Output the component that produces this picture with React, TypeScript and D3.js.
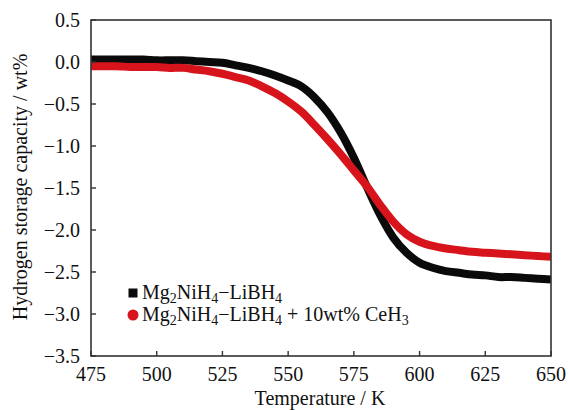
import React from "react";
import * as d3 from "d3";

const temperatures = [475,480,485,490,495,500,505,510,515,520,525,530,535,540,545,550,555,560,565,570,575,580,585,590,595,600,605,610,615,620,625,630,635,640,645,650];
const baseSeries = [0.03,0.03,0.03,0.03,0.03,0.02,0.02,0.02,0.01,0.00,-0.01,-0.04,-0.07,-0.11,-0.16,-0.22,-0.29,-0.42,-0.60,-0.84,-1.14,-1.49,-1.82,-2.09,-2.27,-2.39,-2.45,-2.49,-2.51,-2.53,-2.54,-2.56,-2.56,-2.57,-2.58,-2.59];
const ceSeries = [-0.05,-0.05,-0.05,-0.06,-0.06,-0.06,-0.07,-0.07,-0.09,-0.11,-0.14,-0.18,-0.22,-0.29,-0.37,-0.47,-0.59,-0.75,-0.92,-1.10,-1.29,-1.48,-1.70,-1.90,-2.05,-2.14,-2.19,-2.22,-2.24,-2.26,-2.27,-2.28,-2.29,-2.30,-2.31,-2.32];
const xTicks = [475,500,525,550,575,600,625,650];
const yTicks = [0.5,0.0,-0.5,-1.0,-1.5,-2.0,-2.5,-3.0,-3.5];

const W = 568, H = 410;
const L = 91, R = 551, T = 20, B = 356;
const FONT = "Liberation Serif, Times New Roman, serif";
const FS = 20;

export default function App() {
  const x = d3.scaleLinear().domain([475, 650]).range([L, R]);
  const y = d3.scaleLinear().domain([-3.5, 0.5]).range([B, T]);
  const line = d3.line<number>()
    .x((_, i) => x(temperatures[i]))
    .y((v) => y(v))
    .curve(d3.curveCatmullRom);
  const fmt = (v: number) => (v < 0 ? "\u2212" : "") + Math.abs(v).toFixed(1);
  const sub = (s: string) => (
    <tspan baselineShift="-4" fontSize={14}>{s}</tspan>
  );
  const ts = { fontFamily: FONT };
  return (
    <svg width={W} height={H} style={{ position: "absolute", left: 0, top: 0, fontFamily: FONT }}>
      <rect width={W} height={H} fill="#fff" />
      <defs>
        <clipPath id="plot">
          <rect x={L} y={T} width={R - L} height={B - T} />
        </clipPath>
      </defs>
      <g clipPath="url(#plot)">
        <path d={line(baseSeries) || ""} fill="none" stroke="#0a0a0a" strokeWidth={8} />
        <path d={line(ceSeries) || ""} fill="none" stroke="#d7141c" strokeWidth={8} />
      </g>
      <rect x={L} y={T} width={R - L} height={B - T} fill="none" stroke="#333" strokeWidth={1.6} />
      {xTicks.map((t) => (
        <g key={"x" + t}>
          <line x1={x(t)} x2={x(t)} y1={B} y2={B - 5} stroke="#333" strokeWidth={1.4} />
          <text x={x(t)} y={381} textAnchor="middle" fontSize={FS} fill="#111" style={ts}>{t}</text>
        </g>
      ))}
      {yTicks.map((t) => (
        <g key={"y" + t}>
          <line x1={L} x2={L + 5} y1={y(t)} y2={y(t)} stroke="#333" strokeWidth={1.4} />
          <text x={80} y={y(t)} dy="0.35em" textAnchor="end" fontSize={FS} fill="#111" style={ts}>{fmt(t)}</text>
        </g>
      ))}
      <text x={320} y={405} textAnchor="middle" fontSize={FS} fill="#111" style={ts}>Temperature / K</text>
      <text transform={`translate(27,187) rotate(-90)`} textAnchor="middle" fontSize={FS} fill="#111" style={ts}>
        Hydrogen storage capacity / wt%
      </text>
      <rect x={128.5} y={288.5} width={9} height={9} fill="#0a0a0a" />
      <circle cx={133} cy={315} r={5.5} fill="#d7141c" />
      <text x={142} y={299} fontSize={FS} fill="#111" style={ts}>
        Mg{sub("2")}NiH{sub("4")}{"\u2212"}LiBH{sub("4")}
      </text>
      <text x={142} y={321} fontSize={FS} fill="#111" style={ts}>
        Mg{sub("2")}NiH{sub("4")}{"\u2212"}LiBH{sub("4")} + 10wt% CeH{sub("3")}
      </text>
    </svg>
  );
}
